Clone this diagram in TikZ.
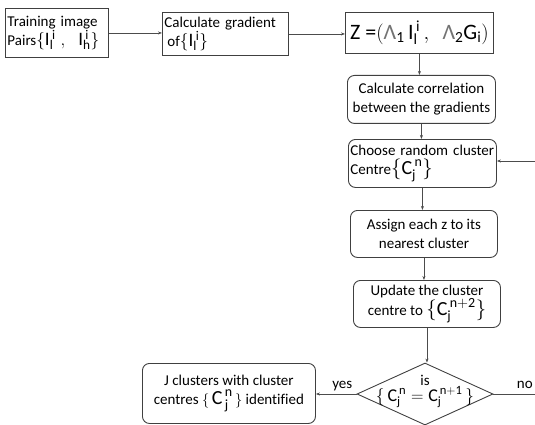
\documentclass[tikz,border=0pt]{standalone}
\usepackage{fontspec}
\setmainfont{Carlito}[Ligatures=NoCommon]
\setmathrm{Carlito}
\usetikzlibrary{shapes.geometric, arrows.meta}

\begin{document}
\begin{tikzpicture}[x=1pt,y=-1pt,
    box/.style={draw=black!75, line width=0.9pt, inner sep=2pt, anchor=north west,
                font=\fontsize{15}{19}\selectfont},
    rbox/.style={box, rounded corners=7pt},
    link/.style={draw=black!70, line width=0.6pt, -{Stealth[length=4pt,width=3pt]}},
    lbl/.style={font=\fontsize{15}{17}\selectfont, inner sep=1pt}]
\useasboundingbox (0,0) rectangle (535,425);

% boxes
\node[box, minimum width=103pt, minimum height=49pt, text width=99pt, align=left] (train) at (5,8)
    {Training image\\Pairs{\fontsize{19}{19}\selectfont$\mathrm{\{I^{\,i}_{l}\ ,\ \ I^{\,i}_{h}\}}$}};
\node[box, minimum width=126pt, minimum height=43pt, text width=122pt, align=left] (grad) at (162,12)
    {Calculate gradient\\\hspace*{3pt}of{\fontsize{19}{19}\selectfont$\mathrm{\{I^{\,i}_{l}\}}$}};
\node[box, minimum width=148pt, minimum height=41pt, align=center] (zvec) at (345,12)
    {\fontsize{22}{24}\selectfont Z =$\mathrm{\bigl(\mbox{\color{black!55}Λ}_{1}\,I^{\,i}_{l}\,,\ \ \mbox{\color{black!55}Λ}_{2}G_{i}\bigr)}$};
\node[rbox, minimum width=148pt, minimum height=48pt, align=center] (corr) at (347,75)
    {Calculate correlation\\between the gradients};
\node[rbox, minimum width=148pt, minimum height=48pt, text width=144pt, align=left] (rand) at (348,139)
    {Choose random cluster\\Centre{\fontsize{20}{20}\selectfont$\mathrm{\{C^{\,n}_{j}\}}$}};
\node[rbox, minimum width=147pt, minimum height=47pt, align=center] (assign) at (350,210)
    {Assign each z to its\\nearest cluster};
\node[rbox, minimum width=147pt, minimum height=47pt, align=center] (update) at (353,280)
    {Update the cluster\\centre to {\fontsize{20}{20}\selectfont$\mathrm{\bigl\{C^{\,n+2}_{j}\bigr\}}$}};
\node[draw=black!75, line width=0.9pt, diamond, minimum width=136pt, minimum height=62pt,
      inner sep=0pt] (check) at (425,394) {};
\node[lbl] (checkis) at ([yshift=14pt]check.center) {is};
\node[inner sep=0pt] (checktext) at ([yshift=-3pt]check.center)
    {\fontsize{18}{18}\selectfont$\mathrm{\{\,C^{\,n}_{j}=C^{\,n+1}_{j}\,\}}$};
\node[rbox, minimum width=173pt, minimum height=60pt, align=center] (found) at (142,363)
    {J clusters with cluster\\centres $\{\,${\fontsize{20}{20}\selectfont$\mathrm{C^{\,n}_{\,j}}$}$\,\}$ identified};

% connectors
\draw[link] (train.east) -- (train.east -| grad.west);
\draw[link] (grad.east) -- (grad.east -| zvec.west);
\draw[link] (zvec.south) -- (zvec.south |- corr.north);
\draw[link] (corr.south) -- (corr.south |- rand.north);
\draw[link] (rand.south) -- (rand.south |- assign.north);
\draw[link] (assign.south) -- (assign.south |- update.north);
\draw[link] (update.south) -- (update.south |- check.north);
\draw[link] (check.west) -- (check.west -| found.east)
    node[lbl, pos=0.35, above=2pt] {yes};
\coordinate (noend) at (535,394);
\draw[draw=black!70, line width=0.6pt] (check.east) -- (noend)
    node[lbl, anchor=south east, xshift=-1pt, yshift=4pt] {no};
\coordinate (back) at (535,161);
\draw[link] (back) -- (back -| rand.east);
\end{tikzpicture}
\end{document}
